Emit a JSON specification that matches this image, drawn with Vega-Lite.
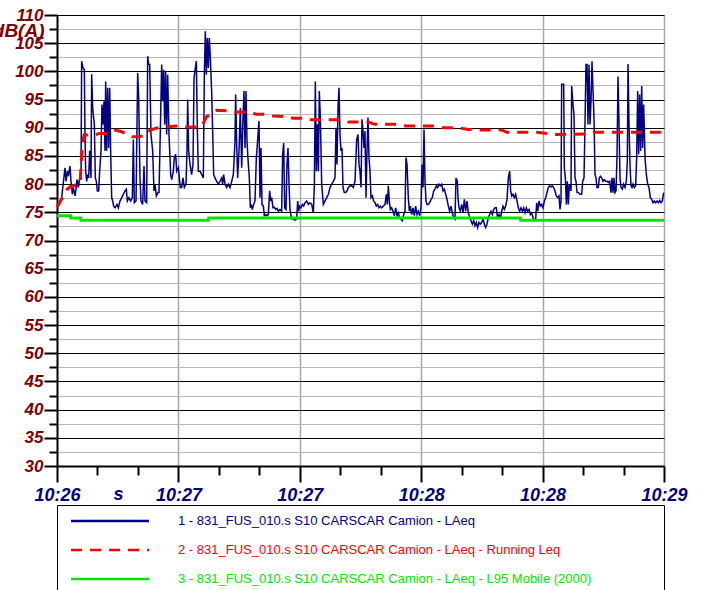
{
  "$schema": "https://vega.github.io/schema/vega-lite/v6.json",
  "autosize": "none",
  "width": 607,
  "height": 451,
  "padding": {"left": 57, "top": 15, "right": 39, "bottom": 124},
  "background": "white",
  "config": {
    "view": {"stroke": null},
    "axis": {"labelFont": "Liberation Sans", "titleFont": "Liberation Sans", "labelFontSize": 17, "titleFontSize": 17, "labelFontStyle": "italic", "titleFontStyle": "italic", "labelFontWeight": "bold", "titleFontWeight": "bold", "labelOverlap": false, "labelFlush": false}
  },
  "data": {"values": [
    {"k":1,"t":0,"v":76.0},{"k":1,"t":0.4,"v":76.1},{"k":1,"t":1.38,"v":77.6},{"k":1,"t":2.37,"v":82.9},{"k":1,"t":2.67,"v":80.5},{"k":1,"t":3.06,"v":82.3},{"k":1,"t":3.36,"v":81.4},{"k":1,"t":3.85,"v":83.2},{"k":1,"t":4.15,"v":80.5},{"k":1,"t":4.55,"v":78.2},{"k":1,"t":4.84,"v":79.4},{"k":1,"t":5.34,"v":77.9},{"k":1,"t":5.63,"v":79.1},{"k":1,"t":5.93,"v":80.8},{"k":1,"t":6.33,"v":79.4},{"k":1,"t":6.82,"v":81.4},{"k":1,"t":7.12,"v":80.8},{"k":1,"t":7.31,"v":101.8},{"k":1,"t":7.71,"v":100.6},{"k":1,"t":8.11,"v":100.3},{"k":1,"t":8.3,"v":88.8},{"k":1,"t":8.5,"v":82.3},{"k":1,"t":8.8,"v":80.5},{"k":1,"t":9.09,"v":81.7},{"k":1,"t":9.39,"v":81.1},{"k":1,"t":9.69,"v":85.9},{"k":1,"t":10.08,"v":81.1},{"k":1,"t":10.28,"v":99.5},{"k":1,"t":10.58,"v":93.5},{"k":1,"t":11.07,"v":90.6},{"k":1,"t":11.37,"v":81.1},{"k":1,"t":11.66,"v":80.5},{"k":1,"t":11.96,"v":78.8},{"k":1,"t":12.36,"v":78.8},{"k":1,"t":12.65,"v":82.3},{"k":1,"t":13.05,"v":85.9},{"k":1,"t":13.34,"v":94.1},{"k":1,"t":13.64,"v":90.6},{"k":1,"t":13.94,"v":94.7},{"k":1,"t":14.23,"v":85.9},{"k":1,"t":14.43,"v":98.2},{"k":1,"t":14.73,"v":85.9},{"k":1,"t":15.02,"v":97.1},{"k":1,"t":15.32,"v":86.4},{"k":1,"t":15.62,"v":97.1},{"k":1,"t":15.91,"v":85.9},{"k":1,"t":16.21,"v":77.6},{"k":1,"t":16.51,"v":77.0},{"k":1,"t":16.8,"v":76.1},{"k":1,"t":17.2,"v":75.8},{"k":1,"t":17.79,"v":76.4},{"k":1,"t":18.19,"v":75.8},{"k":1,"t":18.68,"v":77.0},{"k":1,"t":19.18,"v":77.6},{"k":1,"t":19.67,"v":78.2},{"k":1,"t":20.16,"v":78.8},{"k":1,"t":20.56,"v":79.1},{"k":1,"t":20.86,"v":77.0},{"k":1,"t":21.35,"v":77.6},{"k":1,"t":21.84,"v":77.0},{"k":1,"t":22.34,"v":77.6},{"k":1,"t":22.64,"v":87.9},{"k":1,"t":22.93,"v":76.7},{"k":1,"t":23.43,"v":77.0},{"k":1,"t":23.92,"v":99.7},{"k":1,"t":24.22,"v":95.3},{"k":1,"t":24.61,"v":81.1},{"k":1,"t":24.91,"v":77.0},{"k":1,"t":25.4,"v":76.4},{"k":1,"t":25.8,"v":83.2},{"k":1,"t":26.1,"v":77.0},{"k":1,"t":26.59,"v":76.7},{"k":1,"t":26.89,"v":102.7},{"k":1,"t":27.18,"v":101.2},{"k":1,"t":27.48,"v":101.2},{"k":1,"t":27.87,"v":88.8},{"k":1,"t":28.37,"v":85.9},{"k":1,"t":28.76,"v":78.8},{"k":1,"t":29.06,"v":80.0},{"k":1,"t":29.46,"v":77.9},{"k":1,"t":29.95,"v":78.5},
    {"k":1,"t":30.25,"v":78.5},{"k":1,"t":30.64,"v":89.4},{"k":1,"t":31.04,"v":101.2},{"k":1,"t":31.33,"v":94.7},{"k":1,"t":31.63,"v":100.3},{"k":1,"t":31.93,"v":90.6},{"k":1,"t":32.22,"v":100.0},{"k":1,"t":32.52,"v":88.8},{"k":1,"t":32.82,"v":99.4},{"k":1,"t":33.21,"v":88.8},{"k":1,"t":33.71,"v":81.7},{"k":1,"t":34.0,"v":80.8},{"k":1,"t":34.5,"v":82.3},{"k":1,"t":34.79,"v":84.7},{"k":1,"t":35.19,"v":85.3},{"k":1,"t":35.49,"v":82.3},{"k":1,"t":35.98,"v":82.9},{"k":1,"t":36.28,"v":81.1},{"k":1,"t":36.57,"v":79.4},{"k":1,"t":36.97,"v":79.4},{"k":1,"t":37.36,"v":81.1},{"k":1,"t":37.76,"v":79.4},{"k":1,"t":38.25,"v":80.0},{"k":1,"t":38.55,"v":85.9},{"k":1,"t":38.75,"v":95.0},{"k":1,"t":39.04,"v":85.9},{"k":1,"t":39.44,"v":83.5},{"k":1,"t":39.93,"v":81.7},{"k":1,"t":40.33,"v":83.5},{"k":1,"t":40.63,"v":98.8},{"k":1,"t":41.02,"v":100.6},{"k":1,"t":41.32,"v":101.8},{"k":1,"t":41.61,"v":90.0},{"k":1,"t":41.91,"v":82.3},{"k":1,"t":42.41,"v":82.3},{"k":1,"t":42.9,"v":81.7},{"k":1,"t":43.39,"v":81.1},{"k":1,"t":43.69,"v":99.4},{"k":1,"t":43.99,"v":107.1},{"k":1,"t":44.28,"v":99.4},{"k":1,"t":44.58,"v":105.9},{"k":1,"t":44.88,"v":100.6},{"k":1,"t":45.17,"v":105.9},{"k":1,"t":45.47,"v":102.4},{"k":1,"t":45.86,"v":96.5},{"k":1,"t":46.16,"v":89.4},{"k":1,"t":46.46,"v":81.7},{"k":1,"t":46.85,"v":81.1},{"k":1,"t":47.35,"v":80.5},{"k":1,"t":47.84,"v":80.0},{"k":1,"t":48.34,"v":80.5},{"k":1,"t":48.83,"v":81.1},{"k":1,"t":49.13,"v":80.0},{"k":1,"t":49.42,"v":81.7},{"k":1,"t":49.82,"v":80.0},{"k":1,"t":50.31,"v":79.4},{"k":1,"t":50.81,"v":80.0},{"k":1,"t":51.3,"v":79.4},{"k":1,"t":51.8,"v":80.5},{"k":1,"t":52.29,"v":81.7},{"k":1,"t":52.78,"v":87.6},{"k":1,"t":52.98,"v":95.9},{"k":1,"t":53.28,"v":87.0},{"k":1,"t":53.57,"v":81.1},{"k":1,"t":53.97,"v":85.9},{"k":1,"t":54.37,"v":93.5},{"k":1,"t":54.76,"v":82.9},{"k":1,"t":55.16,"v":91.8},{"k":1,"t":55.45,"v":96.5},{"k":1,"t":55.75,"v":86.4},{"k":1,"t":56.05,"v":96.5},{"k":1,"t":56.34,"v":87.6},{"k":1,"t":56.74,"v":83.5},{"k":1,"t":57.03,"v":81.1},{"k":1,"t":57.33,"v":75.8},{"k":1,"t":57.63,"v":76.4},{"k":1,"t":57.92,"v":75.5},{"k":1,"t":58.32,"v":76.4},{"k":1,"t":58.71,"v":77.0},{"k":1,"t":59.11,"v":84.7},{"k":1,"t":59.51,"v":87.9},
    {"k":1,"t":59.9,"v":91.2},{"k":1,"t":60.2,"v":77.6},{"k":1,"t":60.49,"v":86.4},{"k":1,"t":60.79,"v":76.4},{"k":1,"t":61.19,"v":76.1},{"k":1,"t":61.48,"v":74.4},{"k":1,"t":61.88,"v":74.6},{"k":1,"t":62.27,"v":74.4},{"k":1,"t":62.67,"v":74.6},{"k":1,"t":63.06,"v":78.8},{"k":1,"t":63.36,"v":77.0},{"k":1,"t":63.66,"v":77.6},{"k":1,"t":64.05,"v":75.8},{"k":1,"t":64.45,"v":75.9},{"k":1,"t":64.84,"v":75.5},{"k":1,"t":65.24,"v":75.7},{"k":1,"t":65.63,"v":75.2},{"k":1,"t":66.13,"v":75.5},{"k":1,"t":66.62,"v":75.2},{"k":1,"t":66.92,"v":85.3},{"k":1,"t":67.22,"v":87.3},{"k":1,"t":67.51,"v":75.8},{"k":1,"t":67.91,"v":75.5},{"k":1,"t":68.2,"v":83.5},{"k":1,"t":68.5,"v":86.4},{"k":1,"t":68.8,"v":80.0},{"k":1,"t":69.09,"v":75.5},{"k":1,"t":69.59,"v":73.8},{"k":1,"t":70.08,"v":73.8},{"k":1,"t":70.58,"v":73.6},{"k":1,"t":71.07,"v":73.8},{"k":1,"t":71.37,"v":77.0},{"k":1,"t":71.66,"v":75.2},{"k":1,"t":71.96,"v":76.1},{"k":1,"t":72.36,"v":75.8},{"k":1,"t":72.75,"v":76.4},{"k":1,"t":73.15,"v":76.1},{"k":1,"t":73.54,"v":76.7},{"k":1,"t":74.04,"v":77.0},{"k":1,"t":74.53,"v":76.4},{"k":1,"t":75.02,"v":76.7},{"k":1,"t":75.52,"v":76.4},{"k":1,"t":76.01,"v":74.9},{"k":1,"t":76.31,"v":79.7},{"k":1,"t":76.61,"v":98.2},{"k":1,"t":76.9,"v":82.3},{"k":1,"t":77.2,"v":90.6},{"k":1,"t":77.5,"v":82.3},{"k":1,"t":77.79,"v":96.5},{"k":1,"t":78.09,"v":91.8},{"k":1,"t":78.49,"v":80.0},{"k":1,"t":78.98,"v":76.4},{"k":1,"t":79.47,"v":77.0},{"k":1,"t":79.97,"v":77.6},{"k":1,"t":80.46,"v":78.2},{"k":1,"t":80.96,"v":79.4},{"k":1,"t":81.45,"v":80.0},{"k":1,"t":81.94,"v":80.5},{"k":1,"t":82.44,"v":81.1},{"k":1,"t":82.73,"v":90.0},{"k":1,"t":83.03,"v":83.5},{"k":1,"t":83.33,"v":93.5},{"k":1,"t":83.62,"v":97.1},{"k":1,"t":83.92,"v":88.8},{"k":1,"t":84.22,"v":85.9},{"k":1,"t":84.51,"v":86.4},{"k":1,"t":84.81,"v":79.4},{"k":1,"t":85.21,"v":78.5},{"k":1,"t":85.6,"v":78.5},{"k":1,"t":86.0,"v":78.8},{"k":1,"t":86.39,"v":79.4},{"k":1,"t":86.89,"v":79.7},{"k":1,"t":87.38,"v":79.7},{"k":1,"t":87.87,"v":79.4},{"k":1,"t":88.37,"v":80.5},{"k":1,"t":88.86,"v":87.9},{"k":1,"t":89.26,"v":88.8},
    {"k":1,"t":89.56,"v":83.5},{"k":1,"t":89.85,"v":82.3},{"k":1,"t":90.15,"v":79.4},{"k":1,"t":90.44,"v":91.5},{"k":1,"t":90.74,"v":89.4},{"k":1,"t":91.04,"v":86.4},{"k":1,"t":91.33,"v":89.4},{"k":1,"t":91.63,"v":77.6},{"k":1,"t":91.93,"v":85.9},{"k":1,"t":92.22,"v":91.8},{"k":1,"t":92.52,"v":84.7},{"k":1,"t":92.82,"v":82.3},{"k":1,"t":93.11,"v":77.6},{"k":1,"t":93.51,"v":77.9},{"k":1,"t":93.9,"v":77.0},{"k":1,"t":94.3,"v":76.7},{"k":1,"t":94.69,"v":76.1},{"k":1,"t":95.09,"v":76.4},{"k":1,"t":95.49,"v":75.8},{"k":1,"t":95.88,"v":76.1},{"k":1,"t":96.28,"v":75.8},{"k":1,"t":96.77,"v":76.1},{"k":1,"t":97.27,"v":76.4},{"k":1,"t":97.66,"v":78.2},{"k":1,"t":97.96,"v":76.4},{"k":1,"t":98.25,"v":79.7},{"k":1,"t":98.55,"v":77.0},{"k":1,"t":98.85,"v":75.5},{"k":1,"t":99.24,"v":75.8},{"k":1,"t":99.64,"v":75.2},{"k":1,"t":100.03,"v":74.4},{"k":1,"t":100.43,"v":75.8},{"k":1,"t":100.82,"v":74.4},{"k":1,"t":101.22,"v":74.9},{"k":1,"t":101.61,"v":74.1},{"k":1,"t":102.01,"v":73.8},{"k":1,"t":102.4,"v":73.5},{"k":1,"t":102.8,"v":74.6},{"k":1,"t":103.2,"v":75.2},{"k":1,"t":103.49,"v":84.7},{"k":1,"t":103.79,"v":83.5},{"k":1,"t":104.18,"v":77.6},{"k":1,"t":104.48,"v":75.2},{"k":1,"t":104.78,"v":76.1},{"k":1,"t":105.17,"v":74.6},{"k":1,"t":105.57,"v":75.8},{"k":1,"t":105.96,"v":74.4},{"k":1,"t":106.36,"v":76.1},{"k":1,"t":106.75,"v":74.6},{"k":1,"t":107.15,"v":75.2},{"k":1,"t":107.54,"v":74.4},{"k":1,"t":107.94,"v":75.8},{"k":1,"t":108.24,"v":83.5},{"k":1,"t":108.53,"v":79.4},{"k":1,"t":108.83,"v":89.7},{"k":1,"t":109.13,"v":80.5},{"k":1,"t":109.42,"v":77.0},{"k":1,"t":109.72,"v":76.4},{"k":1,"t":110.11,"v":76.4},{"k":1,"t":110.51,"v":76.7},{"k":1,"t":110.91,"v":77.3},{"k":1,"t":111.3,"v":77.6},{"k":1,"t":111.7,"v":78.8},{"k":1,"t":112.09,"v":79.1},{"k":1,"t":112.49,"v":79.7},{"k":1,"t":112.88,"v":79.4},{"k":1,"t":113.28,"v":80.0},{"k":1,"t":113.67,"v":79.7},{"k":1,"t":114.07,"v":80.0},{"k":1,"t":114.46,"v":78.8},{"k":1,"t":114.86,"v":79.1},{"k":1,"t":115.26,"v":78.2},{"k":1,"t":115.65,"v":77.3},{"k":1,"t":116.05,"v":76.1},{"k":1,"t":116.44,"v":75.2},{"k":1,"t":116.84,"v":76.1},{"k":1,"t":117.23,"v":74.9},{"k":1,"t":117.63,"v":74.1},{"k":1,"t":118.02,"v":73.8},{"k":1,"t":118.32,"v":81.1},{"k":1,"t":118.72,"v":80.5},
    {"k":1,"t":118.91,"v":77.6},{"k":1,"t":119.21,"v":75.8},{"k":1,"t":119.61,"v":75.2},{"k":1,"t":120.0,"v":76.4},{"k":1,"t":120.4,"v":74.9},{"k":1,"t":120.79,"v":77.3},{"k":1,"t":121.19,"v":75.2},{"k":1,"t":121.58,"v":77.0},{"k":1,"t":121.98,"v":74.9},{"k":1,"t":122.37,"v":74.1},{"k":1,"t":122.77,"v":73.5},{"k":1,"t":123.16,"v":72.9},{"k":1,"t":123.56,"v":73.5},{"k":1,"t":123.95,"v":72.6},{"k":1,"t":124.35,"v":73.2},{"k":1,"t":124.74,"v":72.3},{"k":1,"t":125.14,"v":73.2},{"k":1,"t":125.54,"v":72.9},{"k":1,"t":125.93,"v":73.2},{"k":1,"t":126.33,"v":73.8},{"k":1,"t":126.72,"v":72.9},{"k":1,"t":127.12,"v":72.3},{"k":1,"t":127.51,"v":72.9},{"k":1,"t":127.91,"v":74.1},{"k":1,"t":128.3,"v":74.6},{"k":1,"t":128.7,"v":75.2},{"k":1,"t":129.09,"v":74.6},{"k":1,"t":129.49,"v":75.5},{"k":1,"t":129.88,"v":75.8},{"k":1,"t":130.28,"v":75.8},{"k":1,"t":130.68,"v":73.8},{"k":1,"t":131.07,"v":74.6},{"k":1,"t":131.47,"v":73.8},{"k":1,"t":131.86,"v":75.2},{"k":1,"t":132.26,"v":76.1},{"k":1,"t":132.65,"v":75.5},{"k":1,"t":133.05,"v":76.1},{"k":1,"t":133.44,"v":77.3},{"k":1,"t":133.84,"v":81.1},{"k":1,"t":134.23,"v":82.3},{"k":1,"t":134.53,"v":78.8},{"k":1,"t":134.83,"v":77.9},{"k":1,"t":135.22,"v":78.2},{"k":1,"t":135.62,"v":77.6},{"k":1,"t":136.01,"v":78.2},{"k":1,"t":136.41,"v":77.0},{"k":1,"t":136.81,"v":75.8},{"k":1,"t":137.2,"v":75.2},{"k":1,"t":137.6,"v":75.8},{"k":1,"t":137.99,"v":75.2},{"k":1,"t":138.39,"v":75.8},{"k":1,"t":138.78,"v":74.9},{"k":1,"t":139.18,"v":75.8},{"k":1,"t":139.57,"v":75.2},{"k":1,"t":139.97,"v":75.5},{"k":1,"t":140.36,"v":74.6},{"k":1,"t":140.76,"v":74.9},{"k":1,"t":141.15,"v":74.1},{"k":1,"t":141.55,"v":73.5},{"k":1,"t":141.95,"v":73.8},{"k":1,"t":142.24,"v":76.7},{"k":1,"t":142.54,"v":75.2},{"k":1,"t":142.93,"v":77.0},{"k":1,"t":143.33,"v":76.1},{"k":1,"t":143.72,"v":76.4},{"k":1,"t":144.12,"v":75.8},{"k":1,"t":144.51,"v":77.0},{"k":1,"t":144.91,"v":77.6},{"k":1,"t":145.3,"v":78.5},{"k":1,"t":145.7,"v":79.4},{"k":1,"t":146.09,"v":79.7},{"k":1,"t":146.49,"v":79.5},{"k":1,"t":146.88,"v":79.7},{"k":1,"t":147.28,"v":79.4},{"k":1,"t":147.67,"v":78.8},{"k":1,"t":148.07,"v":77.9},{"k":1,"t":148.47,"v":77.6},
    {"k":1,"t":148.86,"v":77.9},{"k":1,"t":149.16,"v":75.5},{"k":1,"t":149.46,"v":77.0},{"k":1,"t":149.65,"v":97.7},{"k":1,"t":149.95,"v":97.7},{"k":1,"t":150.25,"v":97.7},{"k":1,"t":150.44,"v":82.9},{"k":1,"t":150.74,"v":81.1},{"k":1,"t":151.04,"v":76.4},{"k":1,"t":151.33,"v":80.5},{"k":1,"t":151.63,"v":76.4},{"k":1,"t":151.93,"v":80.0},{"k":1,"t":152.22,"v":79.4},{"k":1,"t":152.42,"v":78.8},{"k":1,"t":152.62,"v":97.4},{"k":1,"t":153.01,"v":94.1},{"k":1,"t":153.31,"v":92.3},{"k":1,"t":153.61,"v":81.1},{"k":1,"t":153.9,"v":80.5},{"k":1,"t":154.2,"v":78.5},{"k":1,"t":154.6,"v":78.5},{"k":1,"t":155.09,"v":78.2},{"k":1,"t":155.58,"v":78.2},{"k":1,"t":155.88,"v":80.5},{"k":1,"t":156.28,"v":81.1},{"k":1,"t":156.57,"v":90.6},{"k":1,"t":156.87,"v":101.2},{"k":1,"t":157.17,"v":101.2},{"k":1,"t":157.46,"v":90.6},{"k":1,"t":157.76,"v":101.2},{"k":1,"t":158.06,"v":90.6},{"k":1,"t":158.35,"v":94.7},{"k":1,"t":158.65,"v":101.8},{"k":1,"t":158.95,"v":96.5},{"k":1,"t":159.24,"v":91.8},{"k":1,"t":159.54,"v":81.7},{"k":1,"t":159.83,"v":81.1},{"k":1,"t":160.13,"v":79.4},{"k":1,"t":160.53,"v":79.4},{"k":1,"t":160.82,"v":81.1},{"k":1,"t":161.12,"v":81.4},{"k":1,"t":161.52,"v":81.1},{"k":1,"t":161.91,"v":80.5},{"k":1,"t":162.31,"v":80.8},{"k":1,"t":162.7,"v":80.5},{"k":1,"t":163.1,"v":80.5},{"k":1,"t":163.49,"v":80.3},{"k":1,"t":163.89,"v":80.5},{"k":1,"t":164.28,"v":78.5},{"k":1,"t":164.58,"v":81.1},{"k":1,"t":164.88,"v":78.5},{"k":1,"t":165.17,"v":81.1},{"k":1,"t":165.47,"v":78.5},{"k":1,"t":165.77,"v":78.8},{"k":1,"t":166.06,"v":84.7},{"k":1,"t":166.36,"v":99.1},{"k":1,"t":166.66,"v":90.6},{"k":1,"t":166.95,"v":81.1},{"k":1,"t":167.25,"v":79.4},{"k":1,"t":167.65,"v":79.1},{"k":1,"t":168.04,"v":80.0},{"k":1,"t":168.44,"v":79.4},{"k":1,"t":168.83,"v":80.5},{"k":1,"t":169.13,"v":84.1},{"k":1,"t":169.33,"v":101.3},{"k":1,"t":169.62,"v":90.6},{"k":1,"t":169.92,"v":83.5},{"k":1,"t":170.21,"v":79.7},{"k":1,"t":170.51,"v":79.4},{"k":1,"t":170.81,"v":80.0},{"k":1,"t":171.2,"v":79.4},{"k":1,"t":171.6,"v":79.7},{"k":1,"t":171.89,"v":84.7},{"k":1,"t":172.19,"v":96.5},{"k":1,"t":172.49,"v":85.3},{"k":1,"t":172.78,"v":95.9},{"k":1,"t":173.08,"v":85.9},{"k":1,"t":173.38,"v":97.4},{"k":1,"t":173.67,"v":86.4},{"k":1,"t":173.97,"v":94.1},{"k":1,"t":174.37,"v":84.7},{"k":1,"t":174.76,"v":81.7},{"k":1,"t":175.16,"v":80.0},{"k":1,"t":175.55,"v":79.4},{"k":1,"t":175.95,"v":77.6},{"k":1,"t":176.34,"v":77.3},{"k":1,"t":176.74,"v":76.7},{"k":1,"t":177.13,"v":77.0},{"k":1,"t":177.53,"v":76.7},{"k":1,"t":177.92,"v":77.0},{"k":1,"t":178.32,"v":76.7},{"k":1,"t":178.72,"v":77.1},{"k":1,"t":179.11,"v":76.7},{"k":1,"t":179.51,"v":77.0},{"k":1,"t":179.9,"v":78.5},
    {"k":2,"t":0,"v":76.0},{"k":2,"t":0.39,"v":76.3},{"k":2,"t":1.48,"v":77.5},{"k":2,"t":2.88,"v":79.0},{"k":2,"t":3.86,"v":79.5},{"k":2,"t":6.82,"v":80.1},{"k":2,"t":7.41,"v":86.0},{"k":2,"t":8.01,"v":88.7},{"k":2,"t":10.76,"v":88.7},{"k":2,"t":12.75,"v":89.0},{"k":2,"t":14.74,"v":89.0},{"k":2,"t":17.2,"v":89.6},{"k":2,"t":19.19,"v":89.3},{"k":2,"t":22.15,"v":88.4},{"k":2,"t":24.11,"v":88.4},{"k":2,"t":26.6,"v":88.7},{"k":2,"t":27.58,"v":89.6},{"k":2,"t":30.55,"v":90.1},{"k":2,"t":35.5,"v":90.3},{"k":2,"t":40.42,"v":90.1},{"k":2,"t":42.91,"v":90.3},{"k":2,"t":44.39,"v":92.0},{"k":2,"t":45.87,"v":92.4},{"k":2,"t":47.36,"v":93.1},{"k":2,"t":50.32,"v":93.0},{"k":2,"t":53.29,"v":92.8},{"k":2,"t":56.25,"v":92.8},{"k":2,"t":59.22,"v":92.4},{"k":2,"t":61.18,"v":92.4},{"k":2,"t":64.14,"v":92.1},{"k":2,"t":67.11,"v":92.0},{"k":2,"t":70.07,"v":91.7},{"k":2,"t":72.56,"v":91.7},{"k":2,"t":75.53,"v":91.4},{"k":2,"t":83.92,"v":91.4},{"k":2,"t":86.38,"v":91.0},{"k":2,"t":92.31,"v":91.0},{"k":2,"t":94.3,"v":90.6},{"k":2,"t":100.23,"v":90.6},{"k":2,"t":103.7,"v":90.3},{"k":2,"t":111.59,"v":90.3},{"k":2,"t":114.55,"v":90.0},{"k":2,"t":118.53,"v":90.0},{"k":2,"t":121.97,"v":89.7},{"k":2,"t":125.44,"v":89.6},{"k":2,"t":131.87,"v":89.6},{"k":2,"t":133.36,"v":89.2},{"k":2,"t":142.25,"v":89.2},{"k":2,"t":148.18,"v":88.8},{"k":2,"t":156.57,"v":88.9},{"k":2,"t":159.04,"v":89.2},{"k":2,"t":180,"v":89.2},
    {"k":3,"t":0,"v":74.4},{"k":3,"t":4.0,"v":74.4},{"k":3,"t":4.1,"v":74.0},{"k":3,"t":7.0,"v":74.0},{"k":3,"t":7.1,"v":73.6},{"k":3,"t":44.9,"v":73.6},{"k":3,"t":45.0,"v":74.0},{"k":3,"t":137.4,"v":74.0},{"k":3,"t":137.5,"v":73.6},{"k":3,"t":180,"v":73.6}
  ]},
  "transform": [
    {"lookup": "k", "from": {"data": {"values": [
      {"k": 1, "name": "1 - 831_FUS_010.s S10 CARSCAR Camion - LAeq"},
      {"k": 2, "name": "2 - 831_FUS_010.s S10 CARSCAR Camion - LAeq - Running Leq"},
      {"k": 3, "name": "3 - 831_FUS_010.s S10 CARSCAR Camion - LAeq - L95 Mobile (2000)"}
    ]}, "key": "k", "fields": ["name"]}}
  ],
  "encoding": {
    "x": {
      "field": "t", "type": "quantitative",
      "scale": {"domain": [0, 180], "nice": false, "zero": false},
      "axis": {
        "title": "s", "titleX": 61, "titleY": 28, "titleAlign": "center", "titleBaseline": "middle", "titleColor": "#000080", "titleFontSize": 18,
        "values": [0, 12, 24, 36, 48, 60, 72, 84, 96, 108, 120, 132, 144, 156, 168, 180],
        "labelExpr": "datum.value === 0 ? '10:26' : (datum.value === 36 || datum.value === 72) ? '10:27' : (datum.value === 108 || datum.value === 144) ? '10:28' : datum.value === 180 ? '10:29' : ''",
        "labelColor": "#000080", "labelPadding": 4, "labelAlign": "center", "labelFontSize": 18,
        "domainColor": "#000000", "domainWidth": 2,
        "tickColor": "#000000", "tickWidth": 2,
        "tickSize": {"condition": {"test": "datum.value % 36 === 0", "value": 16}, "value": 9},
        "grid": true, "gridWidth": 1.5,
        "gridColor": {"condition": {"test": "datum.value % 36 === 0 && datum.value > 0", "value": "#a8a8a8"}, "value": "transparent"}
      }
    },
    "y": {
      "field": "v", "type": "quantitative",
      "scale": {"domain": [30, 110], "nice": false, "zero": false},
      "axis": {
        "title": "dB(A)", "titleAngle": 0, "titleAlign": "right", "titleBaseline": "middle", "titleX": -13, "titleY": 15, "titleColor": "#800000", "titleFontSize": 19,
        "values": [30, 32.5, 35, 37.5, 40, 42.5, 45, 47.5, 50, 52.5, 55, 57.5, 60, 62.5, 65, 67.5, 70, 72.5, 75, 77.5, 80, 82.5, 85, 87.5, 90, 92.5, 95, 97.5, 100, 102.5, 105, 107.5, 110],
        "labelExpr": "datum.value % 5 === 0 ? format(datum.value, 'd') : ''",
        "labelColor": "#800000", "labelPadding": 1,
        "domainColor": "#000000", "domainWidth": 2,
        "tickColor": "#000000", "tickWidth": 2,
        "tickSize": {"condition": {"test": "datum.value % 5 === 0", "value": 13}, "value": 8},
        "grid": true, "gridWidth": 1.2,
        "gridColor": {"condition": {"test": "datum.value % 5 === 0", "value": "#000000"}, "value": "#b8b8b8"}
      }
    },
    "color": {
      "field": "name", "type": "nominal",
      "scale": {
        "domain": ["1 - 831_FUS_010.s S10 CARSCAR Camion - LAeq", "2 - 831_FUS_010.s S10 CARSCAR Camion - LAeq - Running Leq", "3 - 831_FUS_010.s S10 CARSCAR Camion - LAeq - L95 Mobile (2000)"],
        "range": ["#000088", "#ff0000", "#00e600"]
      },
      "legend": {
        "title": ".", "titleOrient": "right", "titlePadding": 62, "titleColor": "transparent", "titleFontSize": 10,
        "orient": "none", "legendX": 0, "legendY": 490, "direction": "vertical",
        "symbolType": "M-6,0H6", "symbolSize": 169, "symbolOffset": 37, "symbolStrokeWidth": 2.5,
        "labelFont": "Liberation Sans", "labelFontSize": 13, "labelLimit": 1000, "labelOffset": 60,
        "rowPadding": 14, "padding": 8, "strokeColor": "#000000", "fillColor": "#ffffff",
        "encode": {
          "labels": {"update": {"fill": {"scale": "color", "field": "value"}}}
        }
      }
    },
    "strokeDash": {
      "field": "name", "type": "nominal",
      "scale": {
        "domain": ["1 - 831_FUS_010.s S10 CARSCAR Camion - LAeq", "2 - 831_FUS_010.s S10 CARSCAR Camion - LAeq - Running Leq", "3 - 831_FUS_010.s S10 CARSCAR Camion - LAeq - L95 Mobile (2000)"],
        "range": [[1, 0], [11, 8], [1, 0]]
      },
      "legend": {"title": "."}
    }
  },
  "layer": [
    {"transform": [{"filter": "datum.k === 1"}], "mark": {"type": "line", "strokeWidth": 1.5}},
    {"transform": [{"filter": "datum.k === 3"}], "mark": {"type": "line", "strokeWidth": 3}},
    {"transform": [{"filter": "datum.k === 2"}], "mark": {"type": "line", "strokeWidth": 3}}
  ]
}
